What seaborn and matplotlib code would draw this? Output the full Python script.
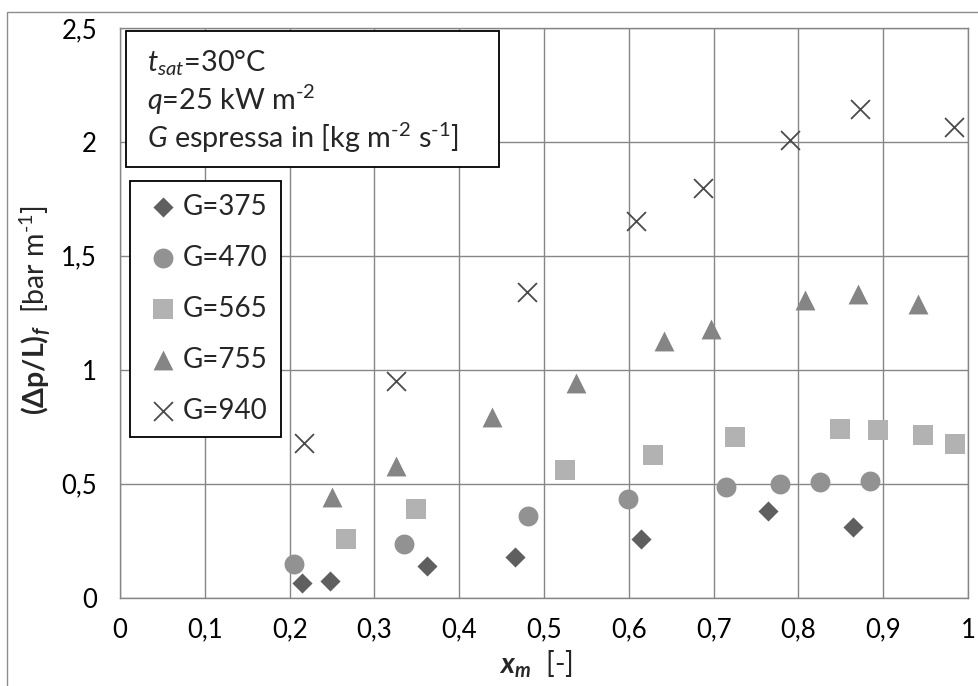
import matplotlib
matplotlib.use("Agg")
import matplotlib.pyplot as plt
from matplotlib.patches import Rectangle
import seaborn as sns
import pandas as pd

# ---- data ----
series_labels = ["G=375", "G=470", "G=565", "G=755", "G=940"]
x375 = [0.215, 0.248, 0.362, 0.466, 0.614, 0.764, 0.864]
y375 = [0.062, 0.074, 0.140, 0.176, 0.258, 0.380, 0.311]
x470 = [0.205, 0.335, 0.481, 0.599, 0.715, 0.778, 0.826, 0.885]
y470 = [0.146, 0.235, 0.356, 0.432, 0.485, 0.497, 0.507, 0.510]
x565 = [0.267, 0.349, 0.525, 0.629, 0.725, 0.849, 0.894, 0.947, 0.985]
y565 = [0.255, 0.390, 0.560, 0.626, 0.703, 0.738, 0.734, 0.712, 0.674]
x755 = [0.250, 0.325, 0.439, 0.538, 0.641, 0.697, 0.808, 0.870, 0.941]
y755 = [0.440, 0.577, 0.794, 0.940, 1.126, 1.180, 1.306, 1.331, 1.287]
x940 = [0.217, 0.326, 0.480, 0.608, 0.688, 0.790, 0.873, 0.983]
y940 = [0.677, 0.950, 1.342, 1.654, 1.799, 2.007, 2.143, 2.067]

xticks = [0, 0.1, 0.2, 0.3, 0.4, 0.5, 0.6, 0.7, 0.8, 0.9, 1.0]
xtick_labels = ["0", "0,1", "0,2", "0,3", "0,4", "0,5", "0,6", "0,7", "0,8", "0,9", "1"]
yticks = [0, 0.5, 1.0, 1.5, 2.0, 2.5]
ytick_labels = ["0", "0,5", "1", "1,5", "2", "2,5"]

info_lines = [r"$\mathit{t}_{\mathit{sat}}$=30°C",
              r"$\mathit{q}$=25 kW m$^{\text{-2}}$",
              r"$\mathit{G}$ espressa in [kg m$^{\text{-2}}$ s$^{\text{-1}}$]"]

# ---- style ----
sns.set_style("white")
plt.rcParams["font.family"] = ["Lato", "DejaVu Sans"]
plt.rcParams["mathtext.fontset"] = "custom"
plt.rcParams["mathtext.rm"] = "Lato"
plt.rcParams["mathtext.it"] = "Lato:italic"
plt.rcParams["mathtext.bf"] = "Lato:bold"
plt.rcParams["mathtext.bfit"] = "Lato:bold:italic"
plt.rcParams["mathtext.fallback"] = "stixsans"

grey = "#868686"
styles = [
    dict(marker="D", color="#5f5f5f", s=105, linewidth=0),
    dict(marker="o", color="#929292", s=205, linewidth=0),
    dict(marker="s", color="#b2b2b2", s=205, linewidth=0),
    dict(marker="^", color="#858585", s=205, linewidth=0),
    dict(marker="x", color="#4a4a4a", s=185, linewidth=1.3),
]
xs = [x375, x470, x565, x755, x940]
ys = [y375, y470, y565, y755, y940]

W, H = 979, 686
fig = plt.figure(figsize=(W / 100, H / 100), dpi=100)
ax = fig.add_axes([120 / W, 1 - 597.5 / H, 848 / W, (597.5 - 28) / H])

# outer chart frame
fig.patches.append(Rectangle((7.3 / W, -0.1), 1.2, 1 - 12 / H + 0.1, transform=fig.transFigure,
                             fill=False, edgecolor="#8c8c8c", linewidth=1.0))

for lab, x, y, st in zip(series_labels, xs, ys, styles):
    df = pd.DataFrame({"x": x, "y": y})
    sns.scatterplot(data=df, x="x", y="y", ax=ax, label=lab, zorder=3, **st)

ax.set_xlim(0, 1)
ax.set_ylim(0, 2.5)
ax.set_xticks(xticks)
ax.set_xticklabels(xtick_labels)
ax.set_yticks(yticks)
ax.set_yticklabels(ytick_labels)
ax.grid(True, color=grey, linewidth=1.0)
ax.set_axisbelow(True)
for sp in ax.spines.values():
    sp.set_color(grey)
    sp.set_linewidth(1.0)
ax.tick_params(axis="both", which="major", direction="out", length=6.5, width=1.0,
               color=grey, labelsize=18.5, labelcolor="black")
ax.tick_params(axis="x", pad=8)
ax.tick_params(axis="y", pad=10)

ax.set_xlabel(r"$\mathbfit{x}_{\mathbfit{m}}$  [-]", fontsize=20.5)
ax.set_ylabel(r"$\mathbf{(\Delta p/L)}_{\mathbfit{f}}$  [bar m$^{\text{-1}}$]", fontsize=20.5)
ax.xaxis.set_label_coords(0.49, -0.09)
ax.yaxis.set_label_coords(-0.079, 0.505)

# info box
fig.patches.append(Rectangle((126.3 / W, 1 - 166.7 / H), (499 - 126.3) / W, (166.7 - 31) / H,
                             transform=fig.transFigure, facecolor="white",
                             edgecolor="black", linewidth=1.3, zorder=5))
for i, t in enumerate(info_lines):
    fig.text(146.7 / W, 1 - (71.7 + 38.3 * i) / H, t, fontsize=20.8, ha="left",
             va="baseline", zorder=6)

# legend
leg = ax.legend(loc="upper left", bbox_to_anchor=(130 / W, 1 - 180.7 / H),
                bbox_transform=fig.transFigure, frameon=True, fancybox=False,
                edgecolor="black", framealpha=1, fontsize=20, borderaxespad=0,
                borderpad=0.47, labelspacing=0.9, handlelength=1.43,
                handletextpad=0.0, markerscale=1.0)
leg.get_frame().set_linewidth(1.3)
leg.set_zorder(6)

fig.savefig("out.png", dpi=100)
